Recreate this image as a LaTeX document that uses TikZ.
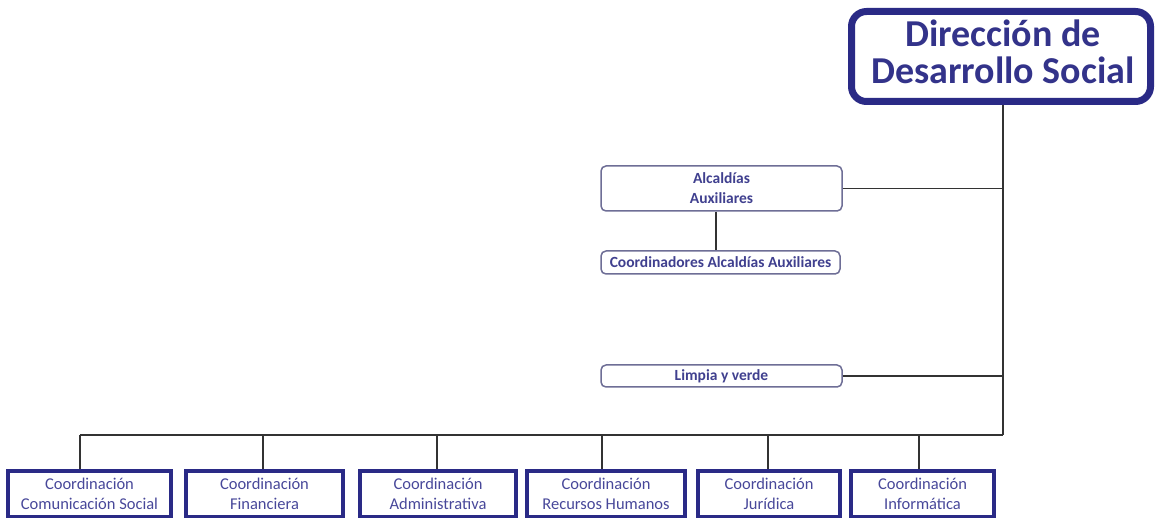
\documentclass[tikz,border=0pt]{standalone}
\usepackage{fontspec}
\setmainfont{Carlito}
\definecolor{navy}{HTML}{2A2A86}
\definecolor{navytext}{HTML}{33338A}
\definecolor{greybox}{HTML}{6E6E96}
\definecolor{smalltext}{HTML}{40408F}
\definecolor{coordtext}{HTML}{48489A}
\definecolor{linegrey}{HTML}{333333}
\tikzset{
  topbox/.style={draw=navy, line width=7pt, rounded corners=15pt, inner sep=0pt},
  toptext/.style={align=center, inner sep=0pt,
    font=\fontsize{38}{37}\selectfont\bfseries, text=navytext},
  subbox/.style={draw=greybox, line width=1.5pt, rounded corners=5pt, align=center, inner sep=0pt,
    font=\fontsize{15.5}{20}\selectfont\bfseries, text=smalltext},
  coordbox/.style={draw=navy, line width=4.5pt, align=center, inner sep=0pt,
    font=\fontsize{16.5}{19.5}\selectfont, text=coordtext},
  conn/.style={draw=linegrey, line width=1.8pt}
}
\begin{document}
\begin{tikzpicture}[x=1pt,y=-1pt]
\useasboundingbox (0,0) rectangle (1159,518);
\fill[white] (0,0) rectangle (1159,518);
% top box
\node[topbox, minimum width=299pt, minimum height=90pt] (dir) at (1001,56.5) {};
\node[toptext] (dirtext) at (1003,52) {Dirección de\\Desarrollo Social};
% sub boxes
\node[subbox, minimum width=241pt, minimum height=45pt] (alc) at (721.5,188.5) {Alcaldías\\Auxiliares};
\node[subbox, minimum width=239pt, minimum height=23pt] (coal) at (720.5,262.5) {Coordinadores Alcaldías Auxiliares};
\node[subbox, minimum width=241pt, minimum height=22pt] (limp) at (721.5,376) {Limpia y verde};
% bottom boxes
\node[coordbox, minimum width=163pt, minimum height=46pt] (c1) at (89.5,494) {Coordinación\\Comunicación Social};
\node[coordbox, minimum width=157pt, minimum height=46pt] (c2) at (264.5,494) {Coordinación\\Financiera};
\node[coordbox, minimum width=156pt, minimum height=46pt] (c3) at (438,494) {Coordinación\\Administrativa};
\node[coordbox, minimum width=158pt, minimum height=46pt] (c4) at (606,494) {Coordinación\\Recursos Humanos};
\node[coordbox, minimum width=142pt, minimum height=46pt] (c5) at (769,494) {Coordinación\\Jurídica};
\node[coordbox, minimum width=143pt, minimum height=46pt] (c6) at (922.5,494) {Coordinación\\Informática};
% connectors
\coordinate (trunk) at (1003,435);
\draw[conn] (dir.south -| trunk) -- (trunk);
\draw[conn] (alc.east) -- (alc.east -| trunk);
\draw[conn] (limp.east) -- (limp.east -| trunk);
\draw[conn] (alc.south -| 716,0) -- (coal.north -| 716,0);
\draw[conn] (80,435) -- (trunk);
\draw[conn] (80,435) -- (c1.north -| 80,0);
\draw[conn] (263,435) -- (c2.north -| 263,0);
\draw[conn] (437,435) -- (c3.north -| 437,0);
\draw[conn] (602,435) -- (c4.north -| 602,0);
\draw[conn] (768,435) -- (c5.north -| 768,0);
\draw[conn] (919,435) -- (c6.north -| 919,0);
\end{tikzpicture}
\end{document}
